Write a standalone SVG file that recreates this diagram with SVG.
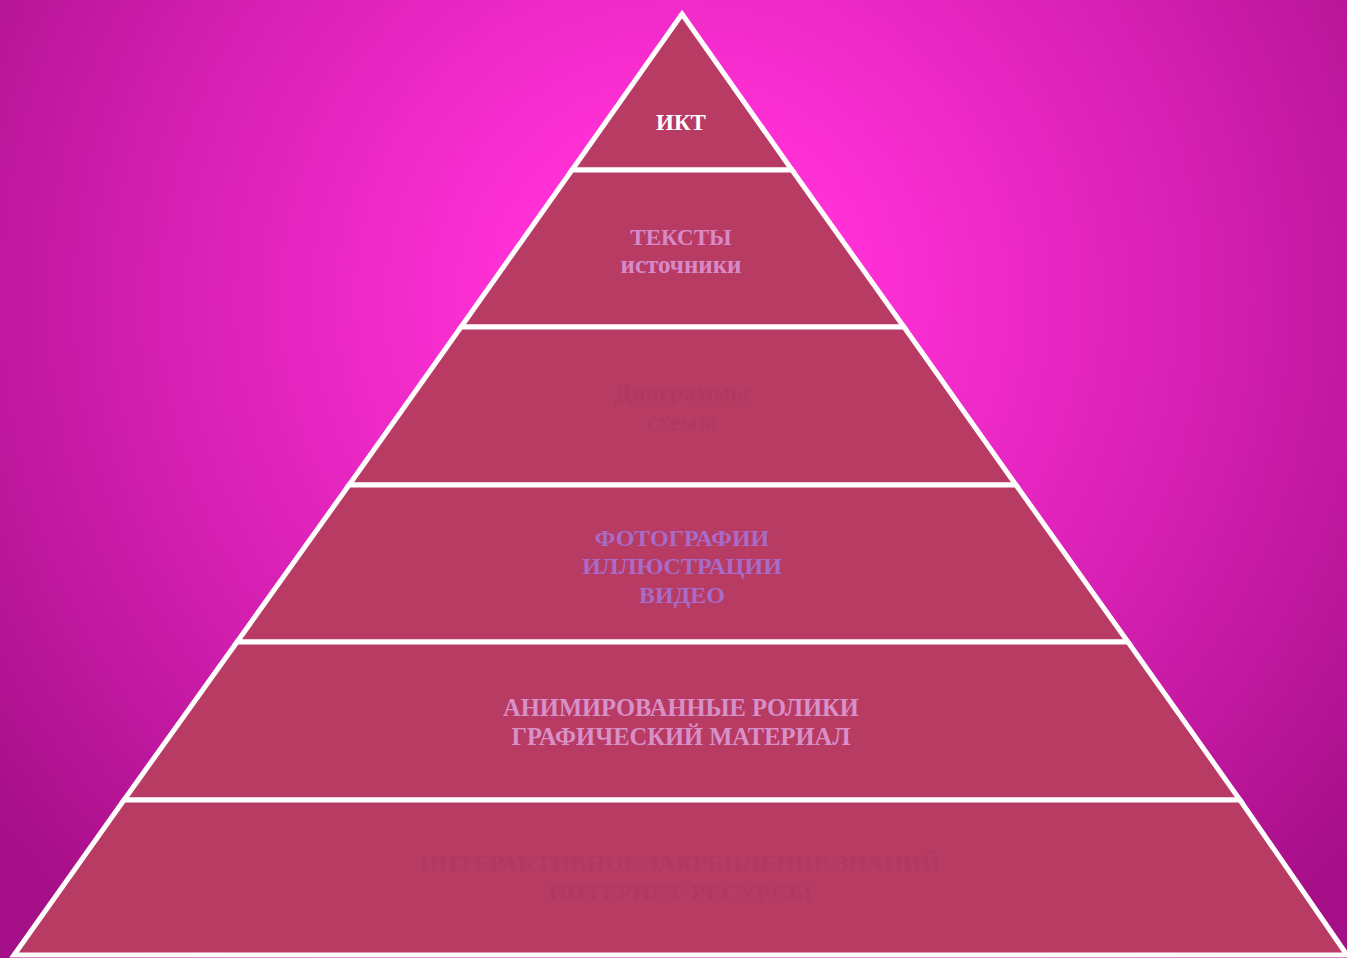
<svg xmlns="http://www.w3.org/2000/svg" width="1347" height="958" viewBox="0 0 1347 958">
<defs>
<radialGradient id="bg" cx="682" cy="300" r="880" gradientUnits="userSpaceOnUse">
<stop offset="0" stop-color="#FF32D8"/>
<stop offset="0.2" stop-color="#FF30D6"/>
<stop offset="0.6" stop-color="#D51FB2"/>
<stop offset="1" stop-color="#A40E86"/>
</radialGradient>
<style>
.layer{fill:#B83B64;stroke:#FFFFFF;stroke-width:5;stroke-linejoin:miter}
.t{font-family:"Liberation Serif","DejaVu Serif",serif;font-weight:bold;text-anchor:middle}
</style>
</defs>
<rect width="1347" height="958" fill="url(#bg)"/>
<g id="layer1">
<polygon class="layer" points="682,14 792,170 572,170"/>
<text class="t" x="681" y="130" font-size="23" fill="#FFFFFF">ИКТ</text>
</g>
<g id="layer2">
<polygon class="layer" points="572,170 792,170 904,327 461,327"/>
<text class="t" x="681" y="245" font-size="23" fill="#D88AC8">ТЕКСТЫ</text>
<text class="t" x="681" y="273" font-size="25" fill="#D88AC8">источники</text>
</g>
<g id="layer3">
<polygon class="layer" points="461,327 904,327 1016,485 349,485"/>
<text class="t" x="682" y="401" font-size="25" fill="#B23860">Диаграммы</text>
<text class="t" x="682" y="430" font-size="25" fill="#B23860">схемы</text>
</g>
<g id="layer4">
<polygon class="layer" points="349,485 1016,485 1128,642 237,642"/>
<text class="t" x="682" y="546" font-size="24" fill="#A86CC8">ФОТОГРАФИИ</text>
<text class="t" x="682" y="574" font-size="24" fill="#A86CC8">ИЛЛЮСТРАЦИИ</text>
<text class="t" x="682" y="603" font-size="24" fill="#A86CC8">ВИДЕО</text>
</g>
<g id="layer5">
<polygon class="layer" points="237,642 1128,642 1240,800 124,800"/>
<text class="t" x="681" y="716" font-size="24.5" fill="#D890C8">АНИМИРОВАННЫЕ РОЛИКИ</text>
<text class="t" x="681" y="745" font-size="24.5" fill="#D890C8">ГРАФИЧЕСКИЙ МАТЕРИАЛ</text>
</g>
<g id="layer6">
<polygon class="layer" points="124,800 1240,800 1347,955 14,955"/>
<text class="t" x="680" y="871" font-size="24" fill="#B23862">ИНТЕРАКТИВНОЕ ЗАКРЕПЛЕНИЕ ЗНАНИЙ</text>
<text class="t" x="680" y="900" font-size="24" fill="#B23862">ИНТЕРНЕТ-РЕСУРСЫ</text>
</g>
<g id="connectors"></g>
</svg>
